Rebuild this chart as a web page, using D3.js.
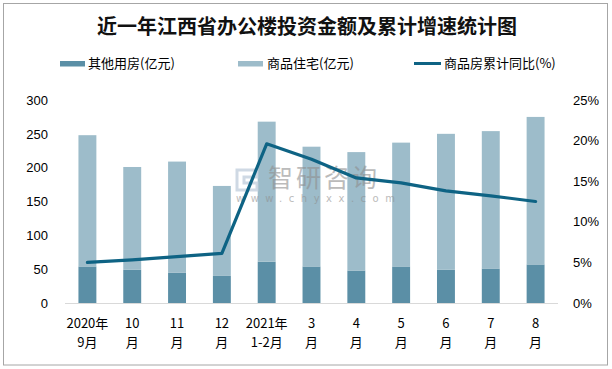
<!DOCTYPE html>
<html>
<head>
<meta charset="utf-8">
<script src="https://cdn.jsdelivr.net/npm/d3@7"></script>
<style>
  html, body { margin: 0; padding: 0; background: #fff; }
  svg { display: block; }
</style>
</head>
<body>
<svg id="chart" width="612" height="369"></svg>
<script>
const categories = ["2020年|9月", "10|月", "11|月", "12|月", "2021年|1-2月", "3|月", "4|月", "5|月", "6|月", "7|月", "8|月"];
const otherValues = [54, 49, 45, 40, 61, 54, 48, 54, 49, 51, 57];
const housingValues = [194, 152, 164, 133, 207, 177, 175, 183, 201, 203, 218];
const growthValues = [5.0, 5.3, 5.7, 6.1, 19.6, 17.7, 15.4, 14.8, 13.8, 13.2, 12.5];
const leftTicks = [0, 50, 100, 150, 200, 250, 300];
const rightTicks = [0, 5, 10, 15, 20, 25];
const seriesNames = ["其他用房(亿元)", "商品住宅(亿元)", "商品房累计同比(%)"];
const titleText = "近一年江西省办公楼投资金额及累计增速统计图";

const colOther = "#5b8fa6", colHousing = "#9dbcca", colLine = "#0e6384";
const svg = d3.select("#chart");
const m = { left: 65, right: 558, top: 100, bottom: 303 };

svg.append("rect").attr("x", 3.5).attr("y", 3.5).attr("width", 604).attr("height", 361.5)
  .attr("fill", "#fff").attr("stroke", "#a6a6a6").attr("stroke-width", 1);

svg.append("text").attr("x", 307).attr("y", 34).attr("text-anchor", "middle")
  .attr("font-family", "'Noto Sans CJK SC', sans-serif").attr("font-weight", "bold")
  .attr("font-size", 20).attr("fill", "#111").text(titleText);

const x = d3.scaleBand().domain(categories).range([m.left, m.right]).paddingInner(0.6).paddingOuter(0.3);
const xc = d => x(d) + x.bandwidth() / 2;
const yL = d3.scaleLinear().domain([0, 300]).range([m.bottom, m.top]);
const yR = d3.scaleLinear().domain([0, 25]).range([m.bottom, m.top]);

// bars
const g = svg.append("g");
g.selectAll("rect.other").data(categories).join("rect").attr("class", "other")
  .attr("x", d => x(d)).attr("width", x.bandwidth())
  .attr("y", (d, i) => yL(otherValues[i])).attr("height", (d, i) => yL(0) - yL(otherValues[i]))
  .attr("fill", colOther);
g.selectAll("rect.housing").data(categories).join("rect").attr("class", "housing")
  .attr("x", d => x(d)).attr("width", x.bandwidth())
  .attr("y", (d, i) => yL(otherValues[i] + housingValues[i]))
  .attr("height", (d, i) => yL(otherValues[i]) - yL(otherValues[i] + housingValues[i]))
  .attr("fill", colHousing);

// watermark (over bars, under line)
const wm = svg.append("g");
wm.append("rect").attr("x", 230).attr("y", 163).attr("width", 150).attr("height", 42).attr("fill", "#fff").attr("opacity", 0.0);
wm.append("path").attr("d", "M237,170 h20 v7 h-13 v6 h13 v7 h-20 z").attr("fill", "none")
  .attr("stroke", "#c3d0dd").attr("stroke-width", 3).attr("opacity", 0.8);
wm.append("text").attr("x", 268).attr("y", 187).attr("font-family", "'Noto Sans CJK SC', sans-serif")
  .attr("font-size", 25).attr("fill", "#8f8f8f").attr("opacity", 0.6).attr("letter-spacing", 3).text("智研咨询");
wm.append("text").attr("x", 236).attr("y", 202).attr("font-family", "'DejaVu Sans', sans-serif")
  .attr("font-size", 10).attr("fill", "#8f8f8f").attr("opacity", 0.6).attr("letter-spacing", 6.5).text("www.chyxx.com");

// baseline
svg.append("line").attr("x1", m.left).attr("x2", m.right).attr("y1", m.bottom + 0.5).attr("y2", m.bottom + 0.5)
  .attr("stroke", "#d9d9d9");

// line
const line = d3.line().x((d, i) => xc(categories[i])).y(d => yR(d));
svg.append("path").datum(growthValues).attr("d", line).attr("fill", "none")
  .attr("stroke", colLine).attr("stroke-width", 3.2).attr("stroke-linejoin", "round").attr("stroke-linecap", "round");

// axes
const tickFont = "'Liberation Sans', Arial, sans-serif";
const axL = svg.append("g").attr("transform", `translate(${m.left - 17},0)`)
  .call(d3.axisLeft(yL).tickValues(leftTicks).tickSize(0).tickPadding(0));
axL.select(".domain").remove();
axL.selectAll("text").attr("font-family", tickFont).attr("font-size", 13).attr("fill", "#000");

const axR = svg.append("g").attr("transform", `translate(${m.right + 15},0)`)
  .call(d3.axisRight(yR).tickValues(rightTicks).tickSize(0).tickPadding(0).tickFormat(d => d + "%"));
axR.select(".domain").remove();
axR.selectAll("text").attr("font-family", tickFont).attr("font-size", 13).attr("fill", "#000");

const axB = svg.append("g").attr("transform", `translate(0,${m.bottom})`)
  .call(d3.axisBottom(x).tickSize(0).tickFormat(""));
axB.select(".domain").remove();
axB.selectAll(".tick").each(function(d) {
  const parts = d.split("|");
  const t = d3.select(this).append("text").attr("text-anchor", "middle")
    .attr("font-family", "'Noto Sans CJK SC', sans-serif").attr("font-size", 13).attr("fill", "#000");
  t.append("tspan").attr("x", 0).attr("y", 25).text(parts[0]);
  t.append("tspan").attr("x", 0).attr("y", 44).text(parts[1]);
});

// legend
const lg = svg.append("g").attr("font-family", "'Noto Sans CJK SC', sans-serif").attr("font-size", 13).attr("fill", "#000");
lg.append("rect").attr("x", 60).attr("y", 61).attr("width", 25).attr("height", 5.5).attr("fill", colOther);
lg.append("text").attr("x", 88).attr("y", 68).text(seriesNames[0]);
lg.append("rect").attr("x", 238).attr("y", 61).attr("width", 25).attr("height", 5.5).attr("fill", colHousing);
lg.append("text").attr("x", 267).attr("y", 68).text(seriesNames[1]);
lg.append("line").attr("x1", 414).attr("x2", 441).attr("y1", 63.5).attr("y2", 63.5).attr("stroke", colLine).attr("stroke-width", 3);
lg.append("text").attr("x", 444).attr("y", 68).text(seriesNames[2]);
</script>
</body>
</html>
